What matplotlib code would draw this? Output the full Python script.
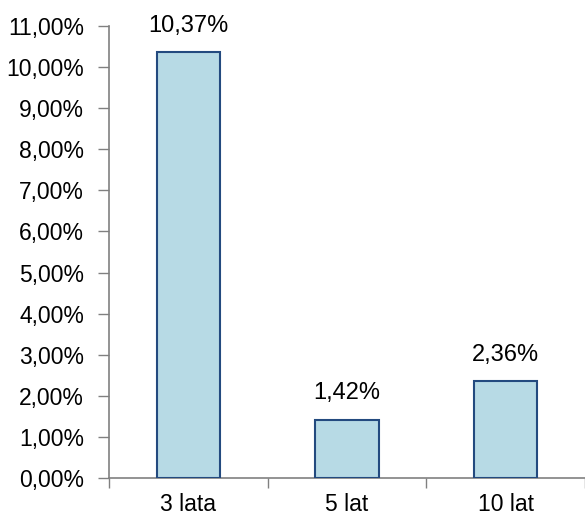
import numpy as np
import matplotlib.pyplot as plt
from matplotlib.ticker import FuncFormatter

plt.rcParams['font.family'] = ['Liberation Sans', 'DejaVu Sans']

# dane
kategorie = ['3 lata', '5 lat', '10 lat']
wartosci = [10.37, 1.42, 2.36]
etykiety = ['10,37%', '1,42%', '2,36%']

fig = plt.figure(figsize=(5.85, 5.15), dpi=100)
ax = fig.add_axes([0.1863, 0.0718, 0.8137, 0.8777])

x = np.arange(len(kategorie))
bars = ax.bar(x, wartosci, width=0.4, color='#B7DAE5', edgecolor='#234A7F', linewidth=1.5, zorder=3)

for b, t in zip(bars, etykiety):
    ax.annotate(t, (b.get_x() + b.get_width()/2, b.get_height()),
                xytext=(0, 11), textcoords='offset points',
                ha='center', va='bottom', fontsize=17)

ax.set_xlim(-0.5, 2.5)
ax.set_ylim(0, 11)
ax.set_yticks(np.arange(0, 12, 1))
ax.yaxis.set_major_formatter(FuncFormatter(lambda v, p: f'{v:.2f}%'.replace('.', ',')))
ax.set_xticks(x)
ax.set_xticklabels(kategorie)
# znaczniki kategorii na granicach
ax.set_xticks([-0.5, 0.5, 1.5, 2.5], minor=True)
ax.tick_params(axis='x', which='major', length=0, labelsize=16.5, pad=11)
ax.tick_params(axis='x', which='minor', length=7, color='#808080', width=1)
ax.tick_params(axis='y', length=8, color='#808080', width=1, labelsize=16.5, pad=10)

for s in ['top', 'right']:
    ax.spines[s].set_visible(False)
for s in ['left', 'bottom']:
    ax.spines[s].set_color('#808080')
    ax.spines[s].set_linewidth(1.2)

fig.savefig('out.png', dpi=100)
